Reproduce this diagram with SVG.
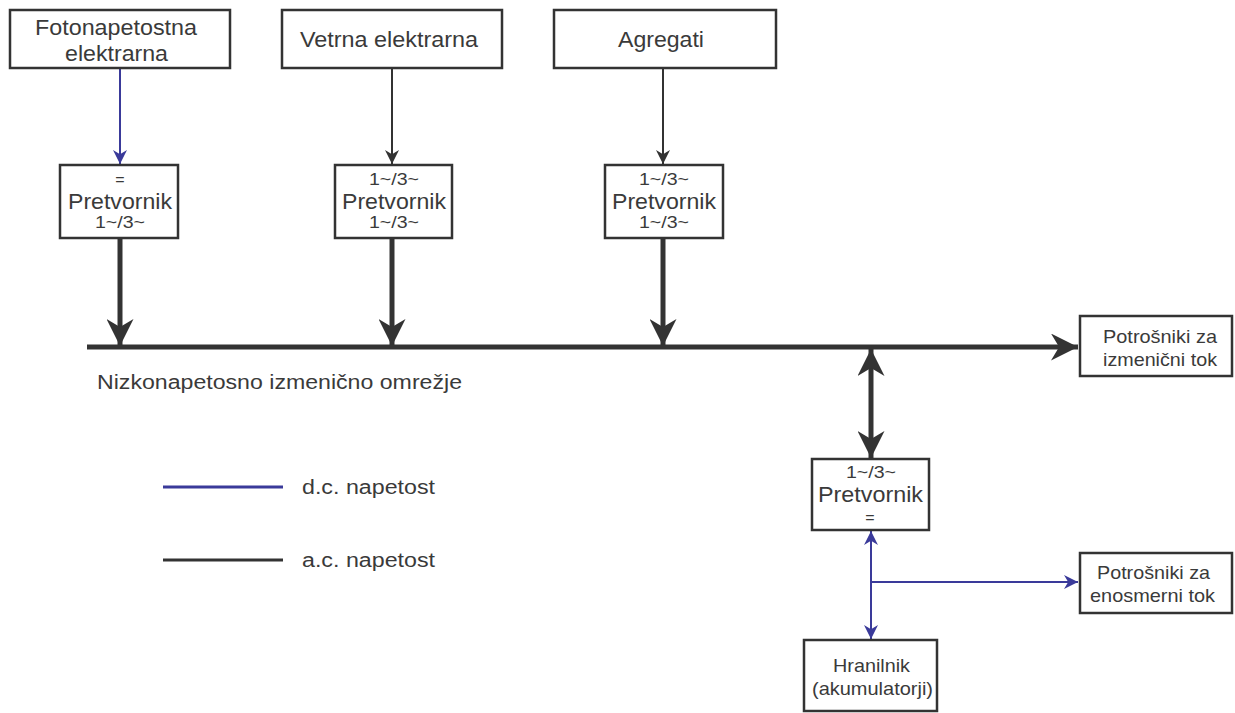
<svg xmlns="http://www.w3.org/2000/svg" width="1235" height="713" viewBox="0 0 1235 713">
<style>
.box{fill:#fff;stroke:#333;stroke-width:2.5}
text{font-family:"Liberation Sans",Arial,sans-serif;fill:#3a3a3a;text-anchor:middle}
.t{font-size:22px}
.p{font-size:22px}
.s{font-size:16px}
.m{font-size:19px}
.l{font-size:20px;text-anchor:start}
.dc{stroke:#3a3a9a;stroke-width:2;fill:none}
.ac{stroke:#333;stroke-width:2;fill:none}
.bus{stroke:#333;stroke-width:5;fill:none}
</style>
<defs>
<marker id="aB" viewBox="0 0 10 10" refX="10" refY="5" markerWidth="14" markerHeight="15" markerUnits="userSpaceOnUse" orient="auto"><path d="M0,0 L10,5 L0,10 L3,5 Z" fill="#333"/></marker>
<marker id="aD" viewBox="0 0 10 10" refX="10" refY="5" markerWidth="14" markerHeight="15" markerUnits="userSpaceOnUse" orient="auto"><path d="M0,0 L10,5 L0,10 L3,5 Z" fill="#3a3a9a"/></marker>
<marker id="aT" viewBox="0 0 10 10" refX="10" refY="5" markerWidth="34" markerHeight="27" markerUnits="userSpaceOnUse" orient="auto"><path d="M0,0 L10,5 L0,10 L3,5 Z" fill="#333"/></marker>
<marker id="aTs" viewBox="0 0 10 10" refX="0" refY="5" markerWidth="34" markerHeight="27" markerUnits="userSpaceOnUse" orient="auto"><path d="M10,0 L0,5 L10,10 L7,5 Z" fill="#333"/></marker>
<marker id="aDs" viewBox="0 0 10 10" refX="0" refY="5" markerWidth="14" markerHeight="15" markerUnits="userSpaceOnUse" orient="auto"><path d="M10,0 L0,5 L10,10 L7,5 Z" fill="#3a3a9a"/></marker>
</defs>
<g id="connectors">
<line class="dc" x1="120" y1="68" x2="120" y2="164" marker-end="url(#aD)"/>
<line class="ac" x1="392" y1="68" x2="392" y2="164" marker-end="url(#aB)"/>
<line class="ac" x1="663" y1="68" x2="663" y2="164" marker-end="url(#aB)"/>
<line class="bus" x1="120" y1="238" x2="120" y2="346" marker-end="url(#aT)"/>
<line class="bus" x1="392" y1="238" x2="392" y2="346" marker-end="url(#aT)"/>
<line class="bus" x1="663" y1="238" x2="663" y2="346" marker-end="url(#aT)"/>
<line class="bus" x1="87" y1="347" x2="1078" y2="347" marker-end="url(#aT)"/>
<line class="bus" x1="871" y1="349" x2="871" y2="458" marker-start="url(#aTs)" marker-end="url(#aT)"/>
<line class="dc" x1="871" y1="531" x2="871" y2="639" marker-start="url(#aDs)" marker-end="url(#aD)"/>
<line class="dc" x1="871" y1="582" x2="1078" y2="582" marker-end="url(#aD)"/>
</g>
<g id="n-foto"><rect class="box" x="10" y="10" width="220" height="58"/><text class="t" x="116" y="35" textLength="162" lengthAdjust="spacingAndGlyphs">Fotonapetostna</text><text class="t" x="116.5" y="61" textLength="103" lengthAdjust="spacingAndGlyphs">elektrarna</text></g>
<g id="n-vetrna"><rect class="box" x="282" y="10" width="220" height="58"/><text class="t" x="389" y="47" textLength="178" lengthAdjust="spacingAndGlyphs">Vetrna elektrarna</text></g>
<g id="n-agregati"><rect class="box" x="554" y="10" width="222" height="58"/><text class="t" x="661" y="47" textLength="86" lengthAdjust="spacingAndGlyphs">Agregati</text></g>
<g id="n-pret1"><rect class="box" x="60" y="165" width="118" height="73"/><text class="s" x="120" y="185">=</text><text class="p" x="120" y="209" textLength="104" lengthAdjust="spacingAndGlyphs">Pretvornik</text><text class="s" x="120" y="228" textLength="50" lengthAdjust="spacingAndGlyphs">1~/3~</text></g>
<g id="n-pret2"><rect class="box" x="335" y="165" width="117" height="73"/><text class="s" x="394" y="185" textLength="50" lengthAdjust="spacingAndGlyphs">1~/3~</text><text class="p" x="394" y="209" textLength="104" lengthAdjust="spacingAndGlyphs">Pretvornik</text><text class="s" x="394" y="228" textLength="50" lengthAdjust="spacingAndGlyphs">1~/3~</text></g>
<g id="n-pret3"><rect class="box" x="605" y="165" width="118" height="73"/><text class="s" x="664" y="185" textLength="50" lengthAdjust="spacingAndGlyphs">1~/3~</text><text class="p" x="664" y="209" textLength="104" lengthAdjust="spacingAndGlyphs">Pretvornik</text><text class="s" x="664" y="228" textLength="50" lengthAdjust="spacingAndGlyphs">1~/3~</text></g>
<g id="n-ac-load"><rect class="box" x="1080" y="316" width="152" height="60"/><text class="m" x="1160" y="343" textLength="114" lengthAdjust="spacingAndGlyphs">Potrošniki za</text><text class="m" x="1160" y="366" textLength="114" lengthAdjust="spacingAndGlyphs">izmenični tok</text></g>
<g id="n-pret4"><rect class="box" x="812" y="459" width="117" height="71"/><text class="s" x="871" y="478" textLength="50" lengthAdjust="spacingAndGlyphs">1~/3~</text><text class="p" x="870.5" y="502" textLength="105" lengthAdjust="spacingAndGlyphs">Pretvornik</text><text class="s" x="870" y="523">=</text></g>
<g id="n-dc-load"><rect class="box" x="1080" y="553" width="152" height="60"/><text class="m" x="1153.5" y="579" textLength="113" lengthAdjust="spacingAndGlyphs">Potrošniki za</text><text class="m" x="1152.5" y="602" textLength="125" lengthAdjust="spacingAndGlyphs">enosmerni tok</text></g>
<g id="n-hranilnik"><rect class="box" x="804" y="640" width="133" height="71"/><text class="m" x="871.5" y="672" textLength="77" lengthAdjust="spacingAndGlyphs">Hranilnik</text><text class="m" x="872.5" y="695" textLength="121" lengthAdjust="spacingAndGlyphs">(akumulatorji)</text></g>
<g id="labels">
<text class="l" x="97" y="389" textLength="365" lengthAdjust="spacingAndGlyphs">Nizkonapetosno izmenično omrežje</text>
<line class="dc" x1="163" y1="487" x2="283" y2="487" style="stroke-width:3"/>
<text class="l" x="302" y="494" textLength="133" lengthAdjust="spacingAndGlyphs">d.c. napetost</text>
<line class="ac" x1="163" y1="560" x2="283" y2="560" style="stroke-width:3"/>
<text class="l" x="302" y="567" textLength="133" lengthAdjust="spacingAndGlyphs">a.c. napetost</text>
</g>
</svg>
